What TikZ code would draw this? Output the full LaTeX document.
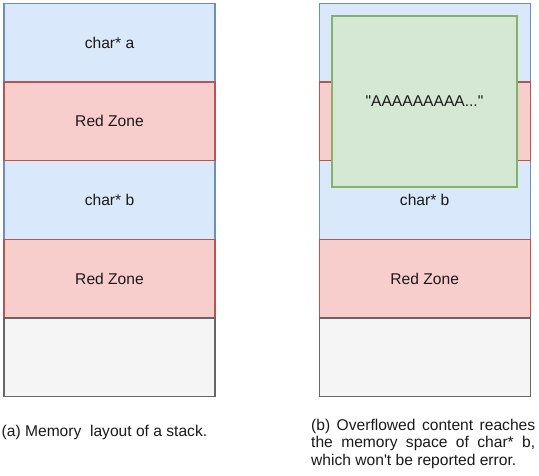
\documentclass[tikz,border=0pt]{standalone}
\usepackage{fontspec}
\setmainfont{Liberation Sans}[Ligatures=TeXOff]
\definecolor{bluefill}{HTML}{DAE8FC}
\definecolor{bluedraw}{HTML}{6C8EBF}
\definecolor{redfill}{HTML}{F8CECC}
\definecolor{reddraw}{HTML}{B85450}
\definecolor{greenfill}{HTML}{D5E8D4}
\definecolor{greendraw}{HTML}{82B366}
\definecolor{grayfill}{HTML}{F5F5F5}
\definecolor{graydraw}{HTML}{666666}
\definecolor{txt}{HTML}{1A1A1A}
\begin{document}
\begin{tikzpicture}[x=1pt,y=-1pt,
  cell/.style={draw, line width=1.3pt, minimum width=211pt, minimum height=78.7pt, inner sep=0pt, outer sep=0pt, text=txt, font=\fontsize{15.6}{18}\selectfont},
  bluecell/.style={cell, fill=bluefill, draw=bluedraw},
  redcell/.style={cell, fill=redfill, draw=reddraw},
  graycell/.style={cell, fill=grayfill, draw=graydraw},
  greencell/.style={cell, fill=greenfill, draw=greendraw, minimum width=185pt, minimum height=171pt},
  captxt/.style={text=txt, font=\fontsize{15.6}{17.3}\selectfont, inner sep=0pt}
]
\useasboundingbox (0,0) rectangle (539,475);
% left column
\node[bluecell] (la1) at (109.5,42.5) {char* a};
\node[bluecell] (lb1) at (109.5,199.9) {char* b};
\node[redcell] (lr1) at (109.5,121.2) {Red Zone};
\node[redcell] (lr2) at (109.5,278.6) {Red Zone};
\node[graycell] (lg1) at (109.5,357.3) {};
% right column
\node[bluecell] (ra1) at (424.7,42.5) {};
\node[bluecell] (rb1) at (424.7,199.9) {char* b};
\node[redcell] (rr1) at (424.7,121.2) {};
\node[redcell] (rr2) at (424.7,278.6) {Red Zone};
\node[graycell] (rg1) at (424.7,357.3) {};
\node[greencell] (ov) at (424.5,101.5) {"AAAAAAAAA..."};
% captions
\node[captxt, anchor=base west] (capa) at (1.5,436.5) {(a) Memory\ \ layout of a stack.};
\node[captxt, anchor=base west] (capb) at (311,430.5) {\parbox[t]{224pt}{\hyphenpenalty=10000\rightskip=0pt\parfillskip=0pt plus 1fil\noindent(b) Overflowed content reaches\linebreak the memory space of char* b,\linebreak which won't be reported error.}};
\end{tikzpicture}
\end{document}
